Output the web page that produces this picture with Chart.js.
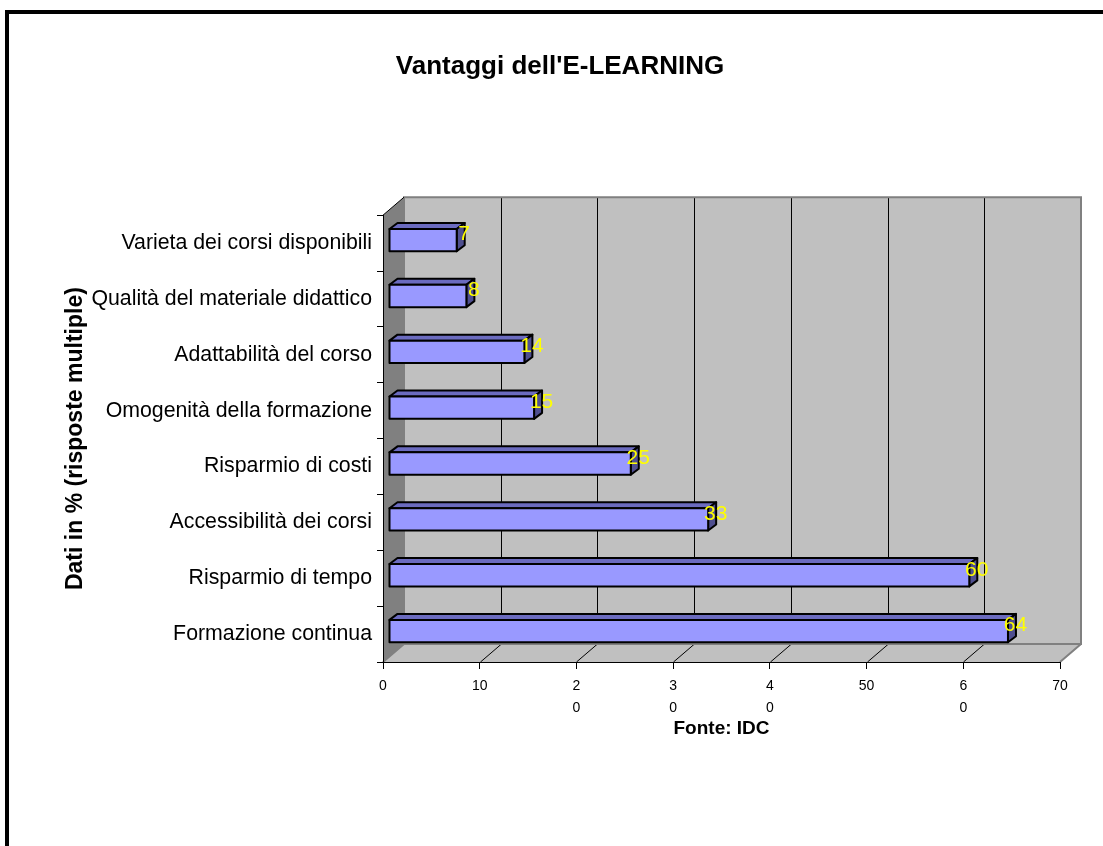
<!DOCTYPE html>
<html>
<head>
<meta charset="utf-8">
<script src="https://cdn.jsdelivr.net/npm/chart.js@4"></script>
<style>
  html, body { margin: 0; padding: 0; background: #fff; overflow: hidden; }
  #wrap { position: relative; width: 1103px; height: 846px; }
  #frame { position: absolute; left: 5px; top: 10px; right: -20px; bottom: -20px;
           border-top: 4px solid #000; border-left: 4px solid #000; pointer-events: none; }
</style>
</head>
<body>
<div id="wrap">
  <canvas id="chart"></canvas>
  <div id="frame"></div>
</div>
<script>
// data, top to bottom as in the picture
const categories = [
  'Varieta dei corsi disponibili',
  'Qualità del materiale didattico',
  'Adattabilità del corso',
  'Omogenità della formazione',
  'Risparmio di costi',
  'Accessibilità dei corsi',
  'Risparmio di tempo',
  'Formazione continua'
];
const percentages = [7, 8, 14, 15, 25, 33, 60, 64];
// the odd wrapped tick labels of the original
const xTickLabels = ['0', '10', ['2', '0'], ['3', '0'], ['4', '0'], '50', ['6', '0'], '70'];

const FONT = '"Liberation Sans", Arial, sans-serif';
const DEPTH = { x: 21, y: -18 };      // front plane -> back wall
const BAR_SHIFT = { x: 6, y: -3 };    // bar front face inside the box
const BAR_DEPTH = { x: 8, y: -6 };

// grey walls and floor of the fake 3d box, drawn under the axes
const walls3d = {
  id: 'walls3d',
  beforeDraw(chart) {
    const { ctx, chartArea: a, scales: { x } } = chart;
    const dx = DEPTH.x, dy = DEPTH.y;
    ctx.save();
    // back wall
    ctx.fillStyle = '#c0c0c0';
    ctx.fillRect(a.left + dx, a.top + dy, a.right - a.left, a.bottom - a.top);
    // left wall
    ctx.fillStyle = '#808080';
    ctx.beginPath();
    ctx.moveTo(a.left, a.top);
    ctx.lineTo(a.left + dx, a.top + dy);
    ctx.lineTo(a.left + dx, a.bottom + dy);
    ctx.lineTo(a.left, a.bottom);
    ctx.closePath();
    ctx.fill();
    // floor
    ctx.fillStyle = '#c0c0c0';
    ctx.beginPath();
    ctx.moveTo(a.left, a.bottom);
    ctx.lineTo(a.left + dx, a.bottom + dy);
    ctx.lineTo(a.right + dx, a.bottom + dy);
    ctx.lineTo(a.right, a.bottom);
    ctx.closePath();
    ctx.fill();

    // gridlines on back wall and floor
    ctx.strokeStyle = '#000';
    ctx.lineWidth = 1;
    x.ticks.forEach(t => {
      if (t.value <= x.min || t.value >= x.max) return;
      const px = Math.round(x.getPixelForValue(t.value)) + 0.5;
      ctx.beginPath();
      ctx.moveTo(px + dx, a.top + dy);
      ctx.lineTo(px + dx, a.bottom + dy);
      ctx.moveTo(px, a.bottom);
      ctx.lineTo(px + dx, a.bottom + dy);
      ctx.stroke();
    });

    // grey edges
    ctx.strokeStyle = '#808080';
    ctx.lineWidth = 2;
    ctx.beginPath();
    ctx.moveTo(a.left + dx, a.bottom + dy);
    ctx.lineTo(a.left + dx, a.top + dy);
    ctx.lineTo(a.right + dx, a.top + dy);
    ctx.lineTo(a.right + dx, a.bottom + dy);
    ctx.lineTo(a.left + dx, a.bottom + dy);
    ctx.moveTo(a.right + dx, a.bottom + dy);
    ctx.lineTo(a.right, a.bottom);
    ctx.moveTo(a.left, a.bottom);
    ctx.lineTo(a.left + dx, a.bottom + dy);
    ctx.stroke();
    ctx.strokeStyle = '#000';
    ctx.lineWidth = 1;
    ctx.beginPath();
    ctx.moveTo(a.left, a.top);
    ctx.lineTo(a.left + dx, a.top + dy);
    ctx.stroke();
    ctx.restore();
  }
};

// bars as boxes + yellow value labels
const bars3d = {
  id: 'bars3d',
  afterDatasetsDraw(chart) {
    const ctx = chart.ctx;
    const meta = chart.getDatasetMeta(0);
    ctx.save();
    ctx.lineWidth = 2;
    ctx.strokeStyle = '#000';
    ctx.lineJoin = 'round';
    meta.data.forEach((bar, i) => {
      const p = bar.getProps(['x', 'y', 'base', 'height'], true);
      const l = p.base + BAR_SHIFT.x, r = p.x + BAR_SHIFT.x;
      const t = p.y - p.height / 2 + BAR_SHIFT.y, b = p.y + p.height / 2 + BAR_SHIFT.y;
      const bx = BAR_DEPTH.x, by = BAR_DEPTH.y;

      // top face
      ctx.fillStyle = '#6b6bbf';
      ctx.beginPath();
      ctx.moveTo(l, t);
      ctx.lineTo(l + bx, t + by);
      ctx.lineTo(r + bx, t + by);
      ctx.lineTo(r, t);
      ctx.closePath();
      ctx.fill();
      ctx.stroke();
      // side face
      ctx.fillStyle = '#4f4f8f';
      ctx.beginPath();
      ctx.moveTo(r, t);
      ctx.lineTo(r + bx, t + by);
      ctx.lineTo(r + bx, b + by);
      ctx.lineTo(r, b);
      ctx.closePath();
      ctx.fill();
      ctx.stroke();
      // front face
      ctx.fillStyle = '#9999ff';
      ctx.fillRect(l, t, r - l, b - t);
      ctx.strokeRect(l, t, r - l, b - t);
    });
    ctx.font = '21px ' + FONT;
    ctx.fillStyle = '#ffff00';
    ctx.textAlign = 'center';
    ctx.textBaseline = 'middle';
    meta.data.forEach((bar, i) => {
      const p = bar.getProps(['x', 'y'], true);
      ctx.fillText(String(percentages[i]), p.x + BAR_SHIFT.x + 7.5, p.y + BAR_SHIFT.y - 5.5);
    });
    ctx.restore();
  }
};

new Chart(document.getElementById('chart'), {
  type: 'bar',
  data: {
    labels: categories,
    datasets: [{
      data: percentages,
      backgroundColor: 'rgba(0,0,0,0)',
      borderWidth: 0,
      barPercentage: 0.8,
      categoryPercentage: 0.5
    }]
  },
  options: {
    indexAxis: 'y',
    responsive: true,
    maintainAspectRatio: false,
    animation: false,
    layout: { padding: { left: 60, right: 43, top: 0, bottom: 106 } },
    plugins: {
      legend: { display: false },
      tooltip: { enabled: false },
      title: {
        display: true,
        text: "Vantaggi dell'E-LEARNING",
        color: '#000',
        font: { family: FONT, size: 26, weight: 'bold', lineHeight: 1.2 },
        padding: { top: 51, bottom: 133 }
      }
    },
    scales: {
      x: {
        min: 0,
        max: 70,
        ticks: {
          stepSize: 10,
          maxRotation: 0,
          autoSkip: false,
          padding: 6,
          color: '#000',
          font: { family: FONT, size: 14, lineHeight: 1.57 },
          callback: (v, i) => xTickLabels[i]
        },
        grid: { drawOnChartArea: false, tickLength: 7, color: '#000' },
        border: { display: true, color: '#000', width: 1 },
        title: {
          display: true,
          text: 'Fonte: IDC',
          color: '#000',
          font: { family: FONT, size: 19, weight: 'bold', lineHeight: 1.2 },
          padding: 0
        },
        afterFit(scale) { scale.height = 78; }
      },
      y: {
        ticks: {
          padding: 5,
          color: '#000',
          font: { family: FONT, size: 21.3 }
        },
        grid: { drawOnChartArea: false, tickLength: 6, color: '#000' },
        border: { display: true, color: '#000', width: 1 },
        title: {
          display: true,
          text: 'Dati in % (risposte multiple)',
          color: '#000',
          font: { family: FONT, size: 23, weight: 'bold', lineHeight: 1.2 },
          padding: { top: 2, bottom: 0 }
        },
        afterFit(scale) { scale.width = 323; }
      }
    }
  },
  plugins: [walls3d, bars3d]
});
</script>
</body>
</html>
